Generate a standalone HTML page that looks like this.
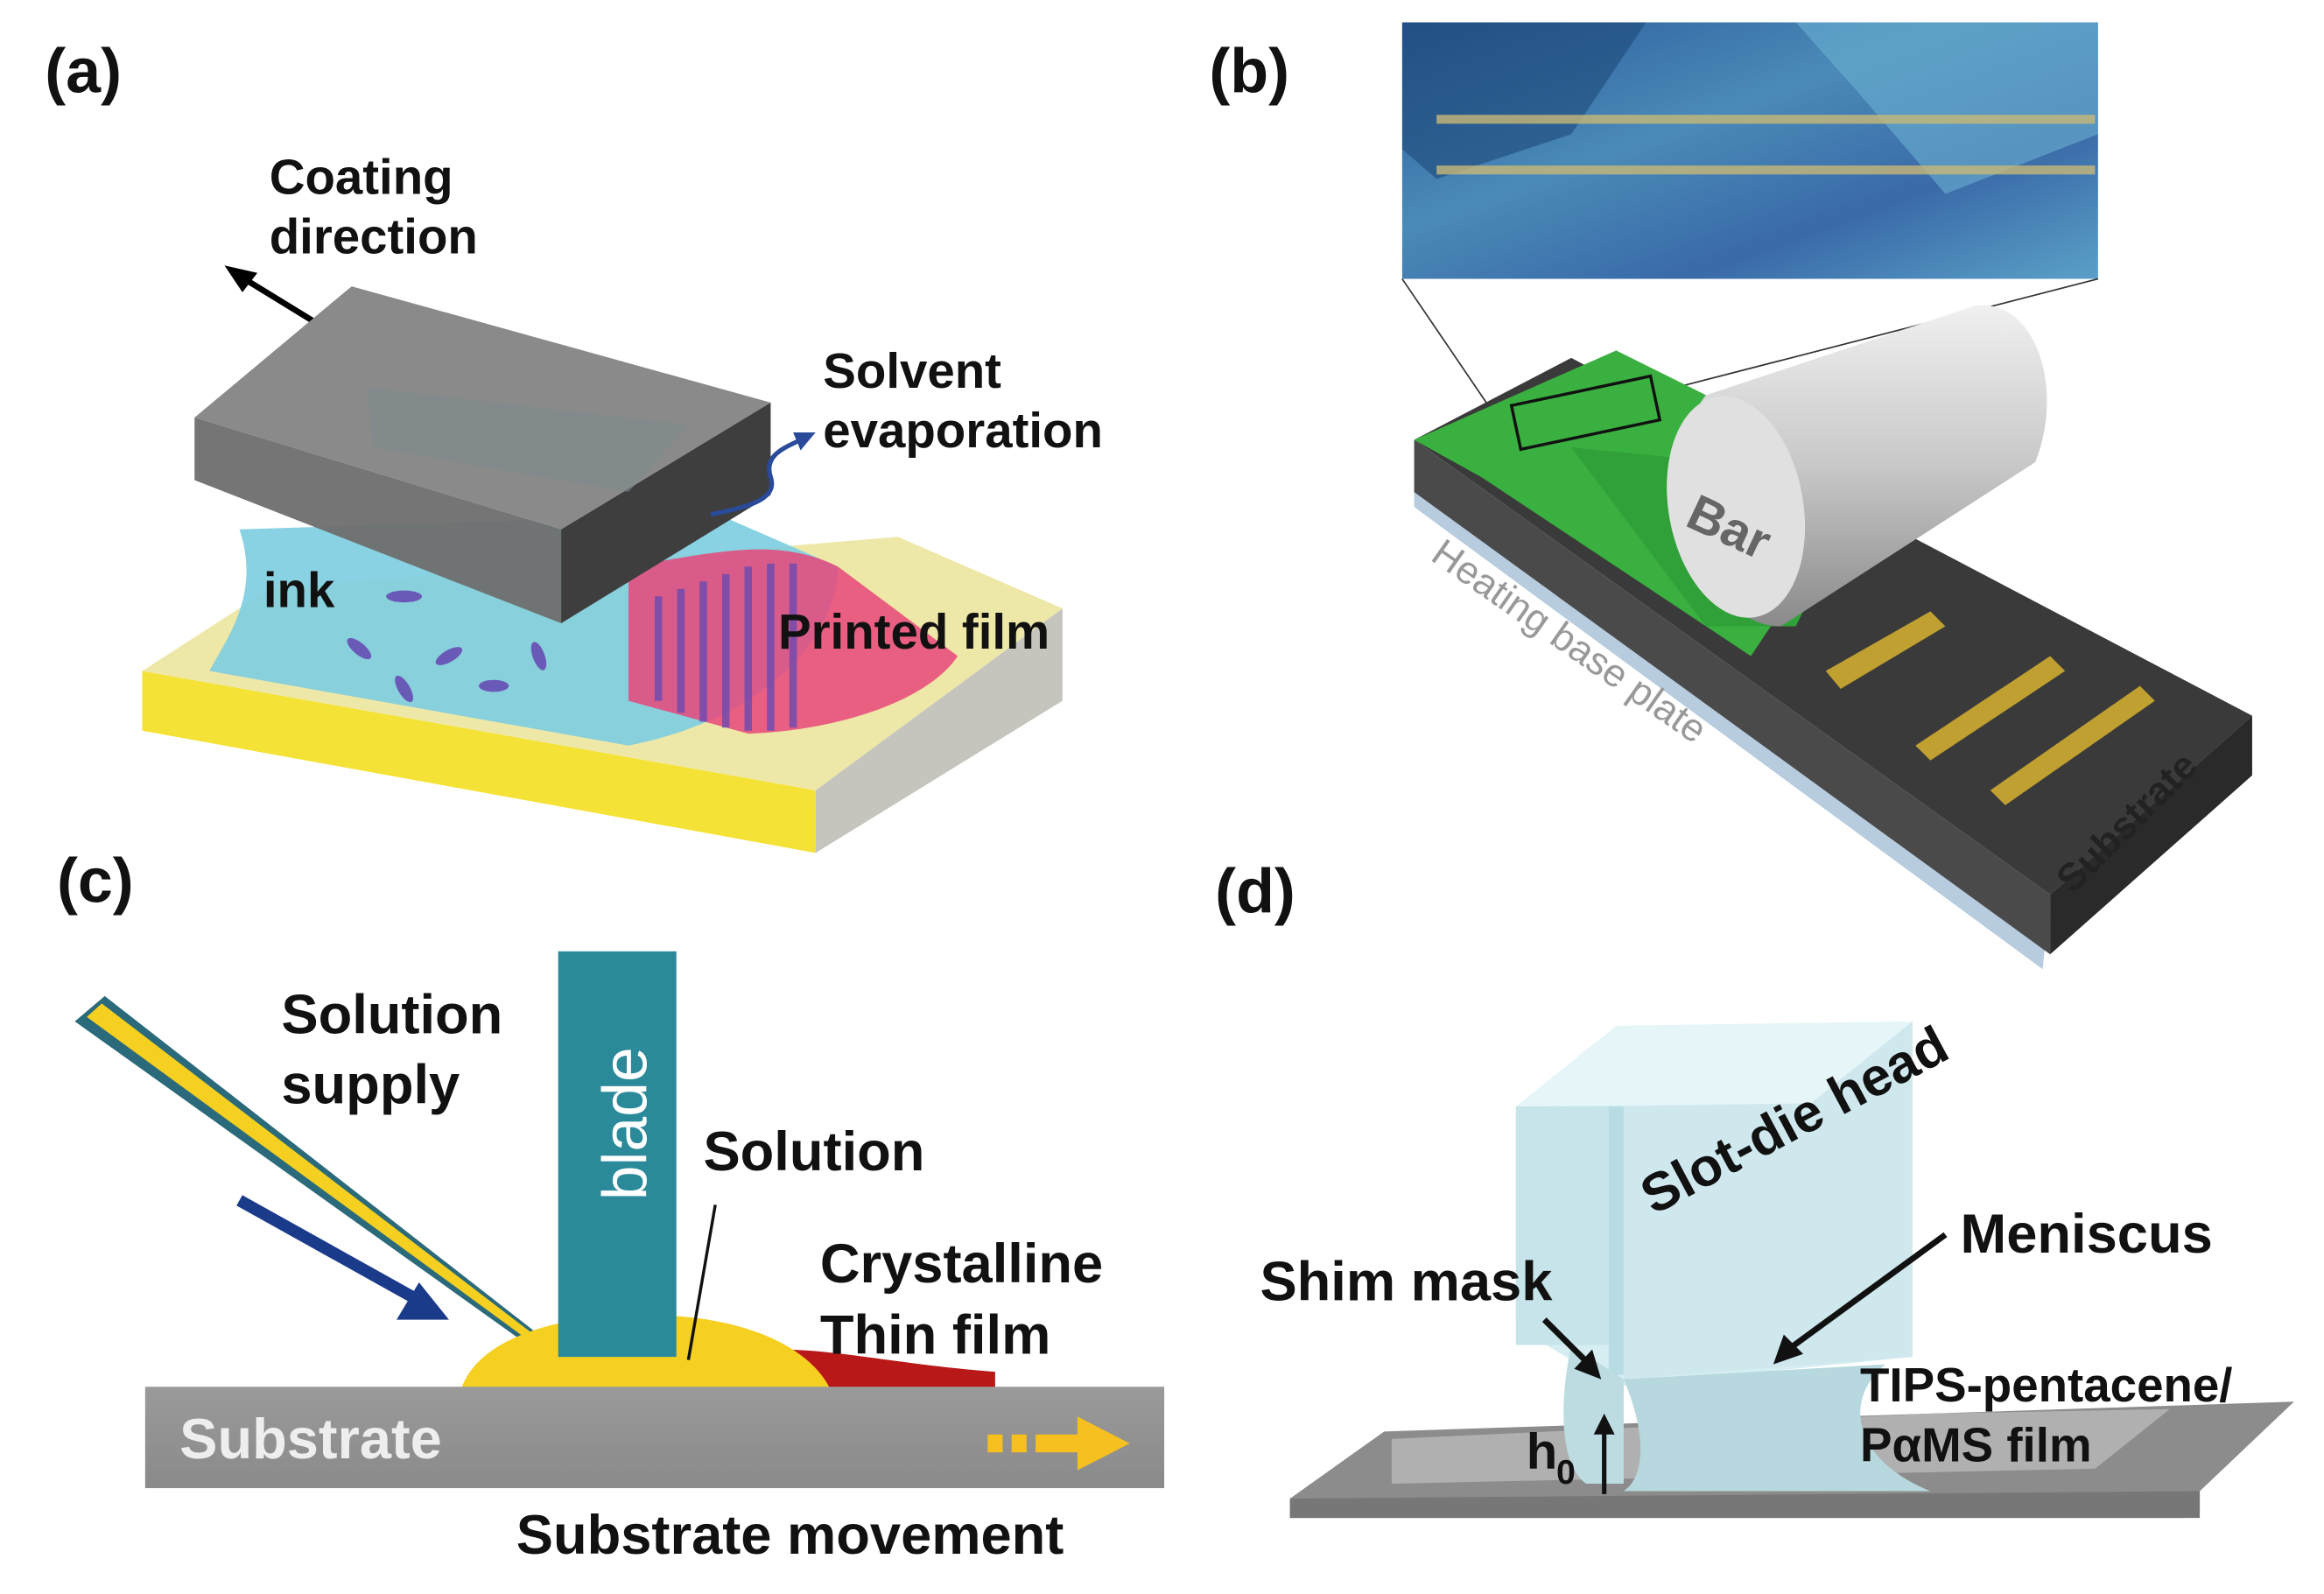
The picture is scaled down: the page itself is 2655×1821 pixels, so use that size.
<!DOCTYPE html>
<html><head><meta charset="utf-8"><style>
html,body{margin:0;padding:0;background:#fff}
svg{display:block}
text{font-family:"Liberation Sans",Arial,sans-serif;font-weight:bold;fill:#111}
</style></head><body>
<svg width="2655" height="1821" viewBox="0 0 1553 1069" preserveAspectRatio="none" xmlns="http://www.w3.org/2000/svg">
<rect width="1553" height="1069" fill="#fff"/>
<defs>
<linearGradient id="micro" x1="0" y1="0" x2="1" y2="1">
<stop offset="0" stop-color="#2a5a9a"/><stop offset="0.4" stop-color="#4a8ab8"/><stop offset="0.7" stop-color="#3a6aa8"/><stop offset="1" stop-color="#5aa0c8"/></linearGradient>
<linearGradient id="cyl" x1="0" y1="0" x2="0" y2="1">
<stop offset="0" stop-color="#f0f0f0"/><stop offset="0.5" stop-color="#c8c8c8"/><stop offset="1" stop-color="#8a8a8a"/></linearGradient>
<linearGradient id="sub" x1="0" y1="0" x2="0" y2="1">
<stop offset="0" stop-color="#9a9a9a"/><stop offset="1" stop-color="#8a8a8a"/></linearGradient>
</defs>

<!-- ===== Panel (a) ===== -->
<text x="30" y="62" font-size="42">(a)</text>
<text x="180" y="130" font-size="33">Coating</text>
<text x="180" y="170" font-size="33">direction</text>
<line x1="225" y1="225" x2="160" y2="185" stroke="#000" stroke-width="4"/>
<polygon points="150,178 172,183 162,196" fill="#000"/>
<polygon points="95,450 545,530 545,572 95,490" fill="#f5e236"/>
<polygon points="545,530 710,408 710,470 545,572" fill="#c5c5bd"/>
<polygon points="95,450 180,395 600,360 710,408 545,530" fill="#eee8a8"/>
<path d="M160,355 C175,400 150,430 140,450 L420,500 C520,480 560,420 560,380 L480,345 Z" fill="#7ccde0" opacity="0.9"/>
<path d="M420,380 C480,370 520,360 560,380 L640,440 C620,470 560,490 500,492 L420,470 Z" fill="#e8467a" opacity="0.85"/>
<g fill="#6a5ab8">
<ellipse cx="270" cy="400" rx="12" ry="4"/><ellipse cx="240" cy="435" rx="10" ry="4" transform="rotate(40 240 435)"/>
<ellipse cx="300" cy="440" rx="10" ry="4" transform="rotate(-30 300 440)"/><ellipse cx="330" cy="460" rx="10" ry="4"/>
<ellipse cx="270" cy="462" rx="10" ry="4" transform="rotate(60 270 462)"/><ellipse cx="360" cy="440" rx="10" ry="4" transform="rotate(70 360 440)"/>
</g>
<g stroke="#6a4ab0" stroke-width="5" opacity="0.8">
<line x1="440" y1="400" x2="440" y2="470"/><line x1="455" y1="395" x2="455" y2="478"/><line x1="470" y1="390" x2="470" y2="484"/><line x1="485" y1="385" x2="485" y2="488"/><line x1="500" y1="380" x2="500" y2="490"/><line x1="515" y1="378" x2="515" y2="490"/><line x1="530" y1="378" x2="530" y2="488"/>
</g>
<polygon points="130,280 375,355 375,418 130,322" fill="#6e6e6e" opacity="0.95"/>
<polygon points="375,355 515,270 515,332 375,418" fill="#3e3e3e"/>
<polygon points="130,280 235,192 515,270 375,355" fill="#8a8a8a"/>
<polygon points="245,260 460,285 420,330 250,300" fill="#7a8a8e" opacity="0.5"/>
<path d="M475,345 C500,340 520,335 515,320 C510,305 525,300 535,295" stroke="#2a4a9a" stroke-width="3" fill="none"/>
<polygon points="545,290 530,290 535,302" fill="#2a4a9a"/>
<text x="550" y="260" font-size="33">Solvent</text>
<text x="550" y="300" font-size="33">evaporation</text>
<text x="176" y="407" font-size="33">ink</text>
<text x="520" y="435" font-size="33">Printed film</text>

<!-- ===== Panel (b) ===== -->
<text x="808" y="62" font-size="42">(b)</text>
<rect x="937" y="15" width="465" height="172" fill="url(#micro)"/>
<polygon points="937,15 1100,15 1050,90 960,120 937,100" fill="#1e4a7a" opacity="0.6"/>
<polygon points="1200,15 1402,15 1402,90 1300,130 1240,60" fill="#6ab0d0" opacity="0.6"/>
<rect x="960" y="77" width="440" height="6" fill="#c8b878" opacity="0.8"/>
<rect x="960" y="111" width="440" height="6" fill="#c8b878" opacity="0.8"/>
<line x1="937" y1="187" x2="1000" y2="280" stroke="#333" stroke-width="1"/>
<line x1="1402" y1="187" x2="1100" y2="265" stroke="#333" stroke-width="1"/>
<polygon points="945,295 1050,240 1505,480 1370,600" fill="#3a3a3a"/>
<polygon points="945,295 1370,600 1365,650 945,340" fill="#b8cce0"/>
<polygon points="945,295 1370,600 1370,640 945,330" fill="#4a4a4a"/>
<polygon points="1370,600 1505,480 1505,520 1370,640" fill="#2a2a2a"/>
<polygon points="945,295 1080,235 1250,320 1170,440 990,320" fill="#3ab040"/>
<polygon points="1050,300 1250,320 1200,420 1140,420" fill="#30a038"/>
<rect x="1010" y="272" width="95" height="30" fill="none" stroke="#111" stroke-width="2" transform="rotate(-12 1010 272)"/>
<g fill="#c0a030">
<polygon points="1220,450 1290,410 1300,420 1230,462"/><polygon points="1280,500 1370,440 1380,450 1290,510"/>
<polygon points="1330,530 1430,460 1440,470 1340,540"/>
</g>
<path d="M1140,265 L1320,205 C1360,200 1380,260 1360,310 L1190,420 C1130,420 1110,300 1140,265 Z" fill="url(#cyl)"/>
<ellipse cx="1160" cy="340" rx="45" ry="75" fill="#e0e0e0" transform="rotate(-10 1160 340)"/>
<text x="1125" y="352" font-size="34" transform="rotate(25 1125 352)" style="fill:#666">Bar</text>
<text x="955" y="375" font-size="26" transform="rotate(35 955 375)" style="fill:#999;font-weight:normal">Heating base plate</text>
<text x="1385" y="600" font-size="26" transform="rotate(-45 1385 600)" style="fill:#222">Substrate</text>

<!-- ===== Panel (c) ===== -->
<text x="38" y="605" font-size="42">(c)</text>
<polygon points="50,685 70,668 360,895 350,900" fill="#2a6a7a"/>
<polygon points="58,682 68,673 358,896 352,898" fill="#f5d020"/>
<line x1="160" y1="805" x2="285" y2="875" stroke="#1a3a8a" stroke-width="8"/>
<polygon points="300,885 265,885 280,860" fill="#1a3a8a"/>
<text x="188" y="693" font-size="37">Solution</text>
<text x="188" y="740" font-size="37">supply</text>
<path d="M520,905 C560,905 600,915 665,920 L665,935 L520,935 Z" fill="#b81818"/>
<path d="M308,932 C320,895 380,880 440,882 C510,884 545,910 555,932 Z" fill="#f5d020"/>
<rect x="373" y="638" width="79" height="272" fill="#2a8a9a"/>
<text x="0" y="0" font-size="42" transform="translate(432,805) rotate(-90)" style="fill:#fff;font-weight:normal">blade</text>
<text x="470" y="785" font-size="37">Solution</text>
<line x1="478" y1="808" x2="460" y2="912" stroke="#111" stroke-width="2"/>
<text x="548" y="860" font-size="37">Crystalline</text>
<text x="548" y="908" font-size="37">Thin film</text>
<rect x="97" y="930" width="681" height="68" fill="url(#sub)"/>
<text x="120" y="978" font-size="38" style="fill:#eee">Substrate</text>
<rect x="660" y="962" width="10" height="12" fill="#f5c020"/><rect x="676" y="962" width="10" height="12" fill="#f5c020"/>
<rect x="692" y="962" width="30" height="12" fill="#f5c020"/>
<polygon points="720,950 755,968 720,986" fill="#f5c020"/>
<text x="345" y="1042" font-size="37">Substrate movement</text>

<!-- ===== Panel (d) ===== -->
<text x="812" y="612" font-size="42">(d)</text>
<polygon points="862,1005 925,960 1533,940 1470,1000 1460,1018 862,1018" fill="#8c8c8c"/>
<polygon points="862,1005 1470,1000 1470,1018 862,1018" fill="#777"/>
<polygon points="930,965 1290,948 1450,945 1400,985 930,995" fill="#b0b0b0"/>
<polygon points="1013,742 1080,688 1278,685 1278,910 1080,930 1013,890" fill="#d6eef2"/>
<polygon points="1013,742 1080,688 1278,685 1210,740" fill="#e6f6f8"/>
<rect x="1013" y="742" width="62" height="160" fill="#c6e4ea"/>
<rect x="1075" y="742" width="10" height="180" fill="#b8dce4"/>
<polygon points="1085,742 1210,740 1278,685 1278,910 1085,925" fill="#cfe8ee"/>
<path d="M1085,925 C1100,960 1100,990 1085,1000 L1290,1000 C1240,980 1230,940 1260,915 Z" fill="#b6d8de"/>
<path d="M1050,902 C1040,950 1045,985 1060,995 L1085,995 L1085,925 Z" fill="#bcdce2"/>
<text x="1105" y="815" font-size="36" transform="rotate(-28 1105 815)">Slot-die head</text>
<text x="1310" y="840" font-size="37">Meniscus</text>
<line x1="1300" y1="828" x2="1195" y2="905" stroke="#111" stroke-width="4"/>
<polygon points="1185,915 1192,895 1205,908" fill="#111"/>
<text x="842" y="872" font-size="37">Shim mask</text>
<line x1="1032" y1="885" x2="1062" y2="915" stroke="#111" stroke-width="4"/>
<polygon points="1070,925 1052,918 1064,905" fill="#111"/>
<text x="1243" y="940" font-size="32">TIPS-pentacene/</text>
<text x="1243" y="980" font-size="32">PαMS film</text>
<text x="1020" y="985" font-size="34">h</text>
<text x="1040" y="995" font-size="23">0</text>
<line x1="1072" y1="1002" x2="1072" y2="960" stroke="#111" stroke-width="3"/>
<polygon points="1072,948 1065,962 1079,962" fill="#111"/>
</svg>
</body></html>
